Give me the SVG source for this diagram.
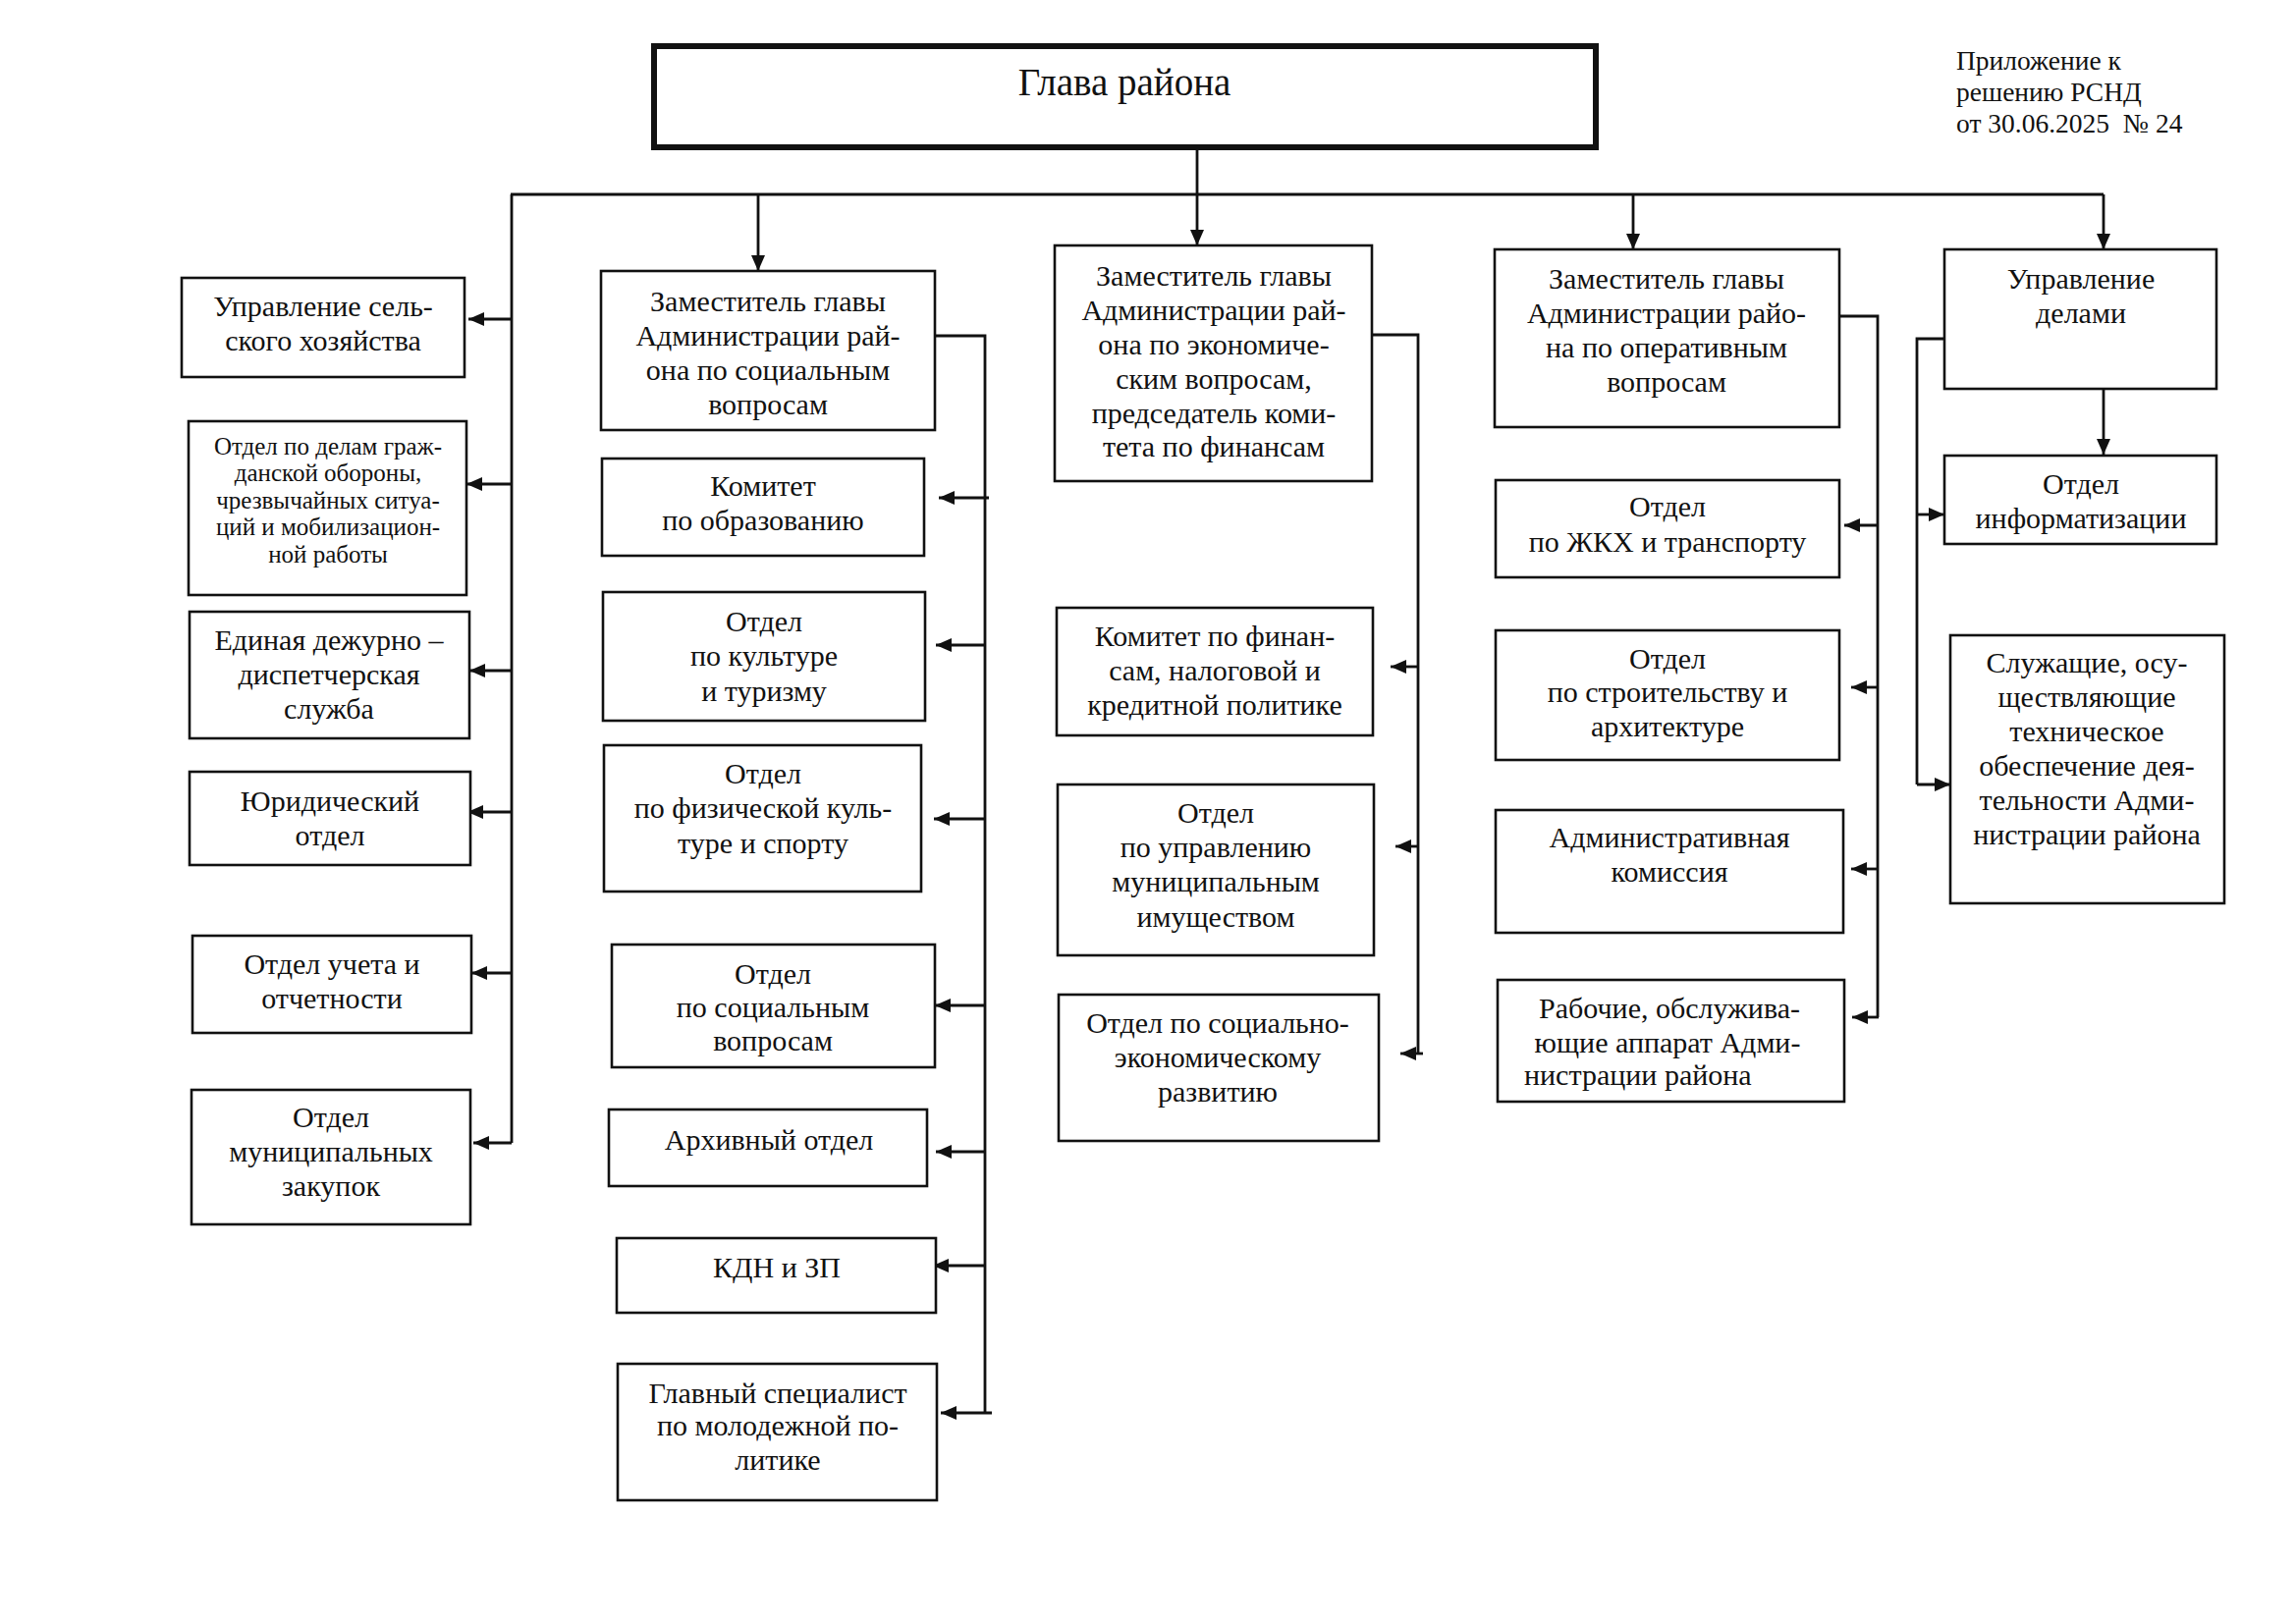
<svg xmlns="http://www.w3.org/2000/svg" width="2338" height="1653" viewBox="0 0 2338 1653">
<style>
.b{fill:#fff;stroke:#111;stroke-width:2.6}
.t{font-family:"Liberation Serif","Times New Roman",serif;font-size:30px;fill:#111;text-anchor:middle}
.s{font-size:25px}
.a{text-anchor:start;font-size:27.5px}
.c{fill:none;stroke:#111;stroke-width:2.8}
</style>
<defs>
<marker id="ah" markerWidth="16" markerHeight="14" refX="16" refY="7" orient="auto" markerUnits="userSpaceOnUse"><path d="M0,0 L16,7 L0,14 z" fill="#111"/></marker>
</defs>
<rect width="2338" height="1653" fill="#fff"/>

<g id="appendix">
<text class="t a" x="1992" y="71">Приложение к</text>
<text class="t a" x="1992" y="103">решению РСНД</text>
<text class="t a" x="1992" y="135" xml:space="preserve">от 30.06.2025  № 24</text>
</g>

<g id="connectors">
<path class="c" d="M520,198 H2142"/>
<path class="c" d="M521,198 V1164"/>
<path class="c" d="M1219,150 V250" marker-end="url(#ah)"/>
<path class="c" d="M772,198 V276" marker-end="url(#ah)"/>
<path class="c" d="M1663,198 V254" marker-end="url(#ah)"/>
<path class="c" d="M2142,198 V254" marker-end="url(#ah)"/>
<path class="c" d="M521,325 H477" marker-end="url(#ah)"/>
<path class="c" d="M521,493 H475" marker-end="url(#ah)"/>
<path class="c" d="M521,683 H478" marker-end="url(#ah)"/>
<path class="c" d="M521,827 H476" marker-end="url(#ah)"/>
<path class="c" d="M521,991 H480" marker-end="url(#ah)"/>
<path class="c" d="M521,1164 H482" marker-end="url(#ah)"/>
<path class="c" d="M952,342 H1003 V1439"/>
<path class="c" d="M1007,507 H956" marker-end="url(#ah)"/>
<path class="c" d="M1003,657 H953" marker-end="url(#ah)"/>
<path class="c" d="M1003,834 H951" marker-end="url(#ah)"/>
<path class="c" d="M1003,1024 H952" marker-end="url(#ah)"/>
<path class="c" d="M1003,1173 H953" marker-end="url(#ah)"/>
<path class="c" d="M1003,1289 H950" marker-end="url(#ah)"/>
<path class="c" d="M1010,1439 H958" marker-end="url(#ah)"/>
<path class="c" d="M1397,341 H1444 V1073"/>
<path class="c" d="M1444,679 H1416" marker-end="url(#ah)"/>
<path class="c" d="M1444,862 H1421" marker-end="url(#ah)"/>
<path class="c" d="M1449,1073 H1426" marker-end="url(#ah)"/>
<path class="c" d="M1873,322 H1912 V1036"/>
<path class="c" d="M1912,535 H1878" marker-end="url(#ah)"/>
<path class="c" d="M1912,700 H1885" marker-end="url(#ah)"/>
<path class="c" d="M1912,885 H1885" marker-end="url(#ah)"/>
<path class="c" d="M1913,1036 H1886" marker-end="url(#ah)"/>
<path class="c" d="M1980,345 H1952 V799"/>
<path class="c" d="M1952,524 H1980" marker-end="url(#ah)"/>
<path class="c" d="M1952,799 H1986" marker-end="url(#ah)"/>
<path class="c" d="M2142,396 V463" marker-end="url(#ah)"/>
</g>

<g id="glava">
<rect x="666" y="47" width="959" height="103" fill="#fff" stroke="#111" stroke-width="6"/>
<text class="t" style="font-size:39px" x="1145" y="97">Глава района</text>
</g>

<g id="selhoz"><rect class="b" x="185" y="283" width="288" height="101"/>
<text class="t" x="329" y="322">Управление сель-</text><text class="t" x="329" y="357">ского хозяйства</text></g>

<g id="go"><rect class="b" x="192" y="429" width="283" height="177"/>
<text class="t s" x="334" y="463">Отдел по делам граж-</text><text class="t s" x="334" y="490">данской обороны,</text><text class="t s" x="334" y="518">чрезвычайных ситуа-</text><text class="t s" x="334" y="545">ций и мобилизацион-</text><text class="t s" x="334" y="573">ной работы</text></g>

<g id="edds"><rect class="b" x="193" y="623" width="285" height="129"/>
<text class="t" x="335" y="662">Единая дежурно –</text><text class="t" x="335" y="697">диспетчерская</text><text class="t" x="335" y="732">служба</text></g>

<g id="yur"><rect class="b" x="193" y="786" width="286" height="95"/>
<text class="t" x="336" y="826">Юридический</text><text class="t" x="336" y="861">отдел</text></g>

<g id="uchet"><rect class="b" x="196" y="953" width="284" height="99"/>
<text class="t" x="338" y="992">Отдел учета и</text><text class="t" x="338" y="1027">отчетности</text></g>

<g id="zakup"><rect class="b" x="195" y="1110" width="284" height="137"/>
<text class="t" x="337" y="1148">Отдел</text><text class="t" x="337" y="1183">муниципальных</text><text class="t" x="337" y="1218">закупок</text></g>

<g id="zam_soc"><rect class="b" x="612" y="276" width="340" height="162"/>
<text class="t" x="782" y="317">Заместитель главы</text><text class="t" x="782" y="352">Администрации рай-</text><text class="t" x="782" y="387">она по социальным</text><text class="t" x="782" y="422">вопросам</text></g>

<g id="obraz"><rect class="b" x="613" y="467" width="328" height="99"/>
<text class="t" x="777" y="505">Комитет</text><text class="t" x="777" y="540">по образованию</text></g>

<g id="kult"><rect class="b" x="614" y="603" width="328" height="131"/>
<text class="t" x="778" y="643">Отдел</text><text class="t" x="778" y="678">по культуре</text><text class="t" x="778" y="714">и туризму</text></g>

<g id="sport"><rect class="b" x="615" y="759" width="323" height="149"/>
<text class="t" x="777" y="798">Отдел</text><text class="t" x="777" y="833">по физической куль-</text><text class="t" x="777" y="869">туре и спорту</text></g>

<g id="socvopr"><rect class="b" x="623" y="962" width="329" height="125"/>
<text class="t" x="787" y="1002">Отдел</text><text class="t" x="787" y="1036">по социальным</text><text class="t" x="787" y="1070">вопросам</text></g>

<g id="arhiv"><rect class="b" x="620" y="1130" width="324" height="78"/>
<text class="t" x="783" y="1171">Архивный отдел</text></g>

<g id="kdn"><rect class="b" x="628" y="1261" width="325" height="76"/>
<text class="t" x="791" y="1301">КДН и ЗП</text></g>

<g id="molod"><rect class="b" x="629" y="1389" width="325" height="139"/>
<text class="t" x="792" y="1429">Главный специалист</text><text class="t" x="792" y="1462">по молодежной по-</text><text class="t" x="792" y="1497">литике</text></g>

<g id="zam_econ"><rect class="b" x="1074" y="250" width="323" height="240"/>
<text class="t" x="1236" y="291">Заместитель главы</text><text class="t" x="1236" y="326">Администрации рай-</text><text class="t" x="1236" y="361">она по экономиче-</text><text class="t" x="1236" y="396">ским вопросам,</text><text class="t" x="1236" y="431">председатель коми-</text><text class="t" x="1236" y="465">тета по финансам</text></g>

<g id="fin"><rect class="b" x="1076" y="619" width="322" height="130"/>
<text class="t" x="1237" y="658">Комитет по финан-</text><text class="t" x="1237" y="693">сам, налоговой и</text><text class="t" x="1237" y="728">кредитной политике</text></g>

<g id="imush"><rect class="b" x="1077" y="799" width="322" height="174"/>
<text class="t" x="1238" y="838">Отдел</text><text class="t" x="1238" y="873">по управлению</text><text class="t" x="1238" y="908">муниципальным</text><text class="t" x="1238" y="944">имуществом</text></g>

<g id="sed"><rect class="b" x="1078" y="1013" width="326" height="149"/>
<text class="t" x="1240" y="1052">Отдел по социально-</text><text class="t" x="1240" y="1087">экономическому</text><text class="t" x="1240" y="1122">развитию</text></g>

<g id="zam_oper"><rect class="b" x="1522" y="254" width="351" height="181"/>
<text class="t" x="1697" y="294">Заместитель главы</text><text class="t" x="1697" y="329">Администрации райо-</text><text class="t" x="1697" y="364">на по оперативным</text><text class="t" x="1697" y="399">вопросам</text></g>

<g id="zhkh"><rect class="b" x="1523" y="489" width="350" height="99"/>
<text class="t" x="1698" y="526">Отдел</text><text class="t" x="1698" y="562">по ЖКХ и транспорту</text></g>

<g id="stroi"><rect class="b" x="1523" y="642" width="350" height="132"/>
<text class="t" x="1698" y="681">Отдел</text><text class="t" x="1698" y="715">по строительству и</text><text class="t" x="1698" y="750">архитектуре</text></g>

<g id="adm"><rect class="b" x="1523" y="825" width="354" height="125"/>
<text class="t" x="1700" y="863">Административная</text><text class="t" x="1700" y="898">комиссия</text></g>

<g id="rab"><rect class="b" x="1525" y="998" width="353" height="124"/>
<text class="t" x="1700" y="1037">Рабочие, обслужива-</text><text class="t" x="1698" y="1072">ющие аппарат Адми-</text><text class="t" style="text-anchor:start" x="1552" y="1105">нистрации района</text></g>

<g id="udel"><rect class="b" x="1980" y="254" width="277" height="142"/>
<text class="t" x="2119" y="294">Управление</text><text class="t" x="2119" y="329">делами</text></g>

<g id="inf"><rect class="b" x="1980" y="464" width="277" height="90"/>
<text class="t" x="2119" y="503">Отдел</text><text class="t" x="2119" y="538">информатизации</text></g>

<g id="sluzh"><rect class="b" x="1986" y="647" width="279" height="273"/>
<text class="t" x="2125" y="685">Служащие, осу-</text><text class="t" x="2125" y="720">ществляющие</text><text class="t" x="2125" y="755">техническое</text><text class="t" x="2125" y="790">обеспечение дея-</text><text class="t" x="2125" y="825">тельности Адми-</text><text class="t" x="2125" y="860">нистрации района</text></g>
</svg>
